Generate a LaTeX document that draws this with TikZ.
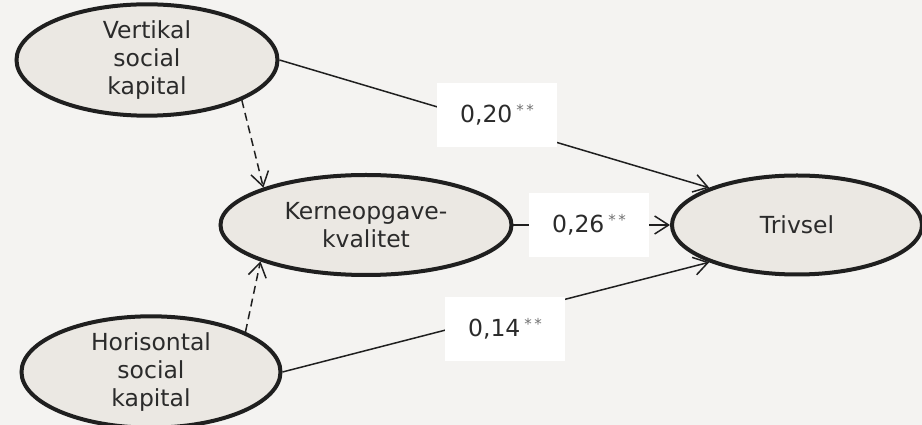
\documentclass[tikz,border=0pt]{standalone}
\usepackage{fontspec}
\setmainfont{DejaVu Sans}
\usetikzlibrary{positioning,shapes.geometric,arrows.meta}
\definecolor{bgcol}{HTML}{F4F3F1}
\definecolor{ellfill}{HTML}{EBE8E3}
\definecolor{txtcol}{HTML}{2B2B2B}
\definecolor{starcol}{HTML}{707070}
\newcommand{\coef}[1]{#1\,\raisebox{6.5pt}{\fontsize{15}{15}\selectfont\color{starcol}*\,*}}

\tikzset{
    factor/.style={ellipse, draw=black!88, line width=4pt, outer sep=2pt, fill=ellfill,
        inner sep=0pt, align=center, text=txtcol, font=\fontsize{23.5}{28}\selectfont},
    coefbox/.style={fill=white, minimum width=120pt, minimum height=64pt,
        text=txtcol, font=\fontsize{23.5}{28}\selectfont},
    effect/.style={-{Straight Barb[length=14pt,width=18pt]}, line width=1.5pt, draw=black!88},
    indirect/.style={effect, dash pattern=on 8pt off 5pt}
}

\begin{document}
\begin{tikzpicture}[x=1pt, y=1pt, on grid]
    \fill [bgcol] (-366,-200) rectangle (556,225);
    \useasboundingbox (-366,-200) rectangle (556,225);
    \node [factor, minimum width=291pt, minimum height=100pt] (kerne) at (0,0) {Kerneopgave-\\kvalitet};
    \node [factor, minimum width=250pt, minimum height=99pt, right = 431pt of kerne] (trivsel) {Trivsel};
    \node [factor, minimum width=261pt, minimum height=100pt, above left = 165pt and 219pt of kerne] (vertikal) {Vertikal\\social\\kapital};
    \node [factor, minimum width=259pt, minimum height=100pt, below left = 147pt and 215pt of kerne] (horisontal) {Horisontal\\social\\kapital};

    \draw [effect] (vertikal.east) -- (trivsel.157);
    \draw [effect] (kerne) -- (trivsel);
    \draw [effect] (horisontal.east) -- (trivsel.203);
    \draw [indirect] (vertikal.337) -- (kerne.160);
    \draw [indirect] (horisontal.23) -- (kerne.199);

    \node [coefbox, above right = 110pt and 131pt of kerne] (b020) {\coef{0,20}};
    \node [coefbox, right = 223pt of kerne] (b026) {\coef{0,26}};
    \node [coefbox, below right = 104pt and 139pt of kerne] (b014) {\coef{0,14}};
\end{tikzpicture}
\end{document}
